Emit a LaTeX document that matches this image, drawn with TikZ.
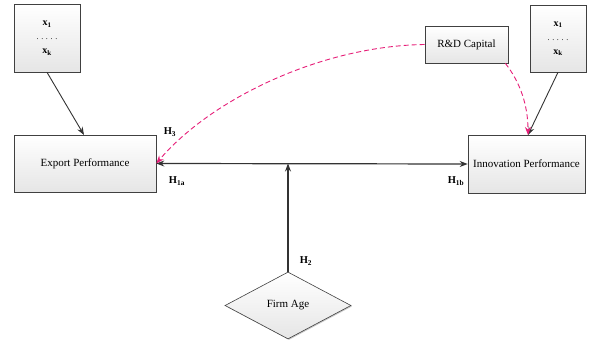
\documentclass[tikz,border=0pt]{standalone}
\usepackage{fontspec}
\setmainfont{Liberation Serif}
\usetikzlibrary{shapes.geometric,shadows,arrows.meta}
\definecolor{dashpink}{RGB}{230,30,120}
\begin{document}
\begin{tikzpicture}[x=1pt,y=-1pt,
  box/.style={draw=black!75,line width=0.6pt,top color=white,bottom color=black!10,
    drop shadow={shadow xshift=1pt,shadow yshift=-1pt,fill=black!35,opacity=0.6},
    font=\fontsize{11}{12}\selectfont,inner sep=0pt},
  varbox/.style={box,font=\fontsize{10}{11}\selectfont\bfseries,align=center},
  conn/.style={draw=black!80,line width=0.9pt,-{Stealth[length=8pt,width=6pt]}},
  dconn/.style={draw=dashpink,line width=0.9pt,dashed,dash pattern=on 5pt off 3pt,-{Stealth[length=8pt,width=6pt]}},
  hlab/.style={font=\fontsize{10.5}{11}\selectfont\bfseries}]
\useasboundingbox (0,0) rectangle (598,344);
\node[varbox,minimum width=66pt,minimum height=68pt] (xl) at (47,38) {x\textsubscript{1}\\[3pt]\mdseries\fontsize{8}{9}\selectfont . . . . .\\[3pt]x\textsubscript{k}};
\node[varbox,minimum width=56pt,minimum height=67pt] (xr) at (558,38.5) {x\textsubscript{1}\\[3pt]\mdseries\fontsize{8}{9}\selectfont . . . . .\\[3pt]x\textsubscript{k}};
\node[box,minimum width=142pt,minimum height=57pt] (exp) at (85,163.5) {Export Performance};
\node[box,minimum width=117pt,minimum height=58pt] (inn) at (526.5,164) {Innovation Performance};
\node[box,minimum width=83pt,minimum height=37pt] (rd) at (466.5,44.5) {R\&D Capital};
\node[box,diamond,aspect=1.9,minimum width=126pt,minimum height=67pt] (age) at (288,305.5) {Firm Age};
\coordinate (mid) at (288,163.5);
\coordinate (expn) at (84,135);
\coordinate (innn) at (528,135);
\draw[conn] (xl.south) -- (expn);
\draw[conn,line width=1.2pt,{Stealth[length=8pt,width=6pt]}-{Stealth[length=8pt,width=6pt]}] (exp.east) -- (inn.west);
\draw[conn,line width=1.2pt] (age.north) -- (mid);
\draw[conn] (xr.south) -- (innn);
\draw[dconn] (rd.west) .. controls (320,46) and (210,100) .. (exp.east);
\draw[dconn] (rd.south east) ++(-3,0) .. controls (520,82) and (528,105) .. (innn);
\node[hlab] (h3) at (170,132) {H\textsubscript{3}};
\node[hlab] (h1a) at (177,181) {H\textsubscript{1a}};
\node[hlab] (h1b) at (456,181) {H\textsubscript{1b}};
\node[hlab] (h2) at (306,261) {H\textsubscript{2}};
\end{tikzpicture}
\end{document}
